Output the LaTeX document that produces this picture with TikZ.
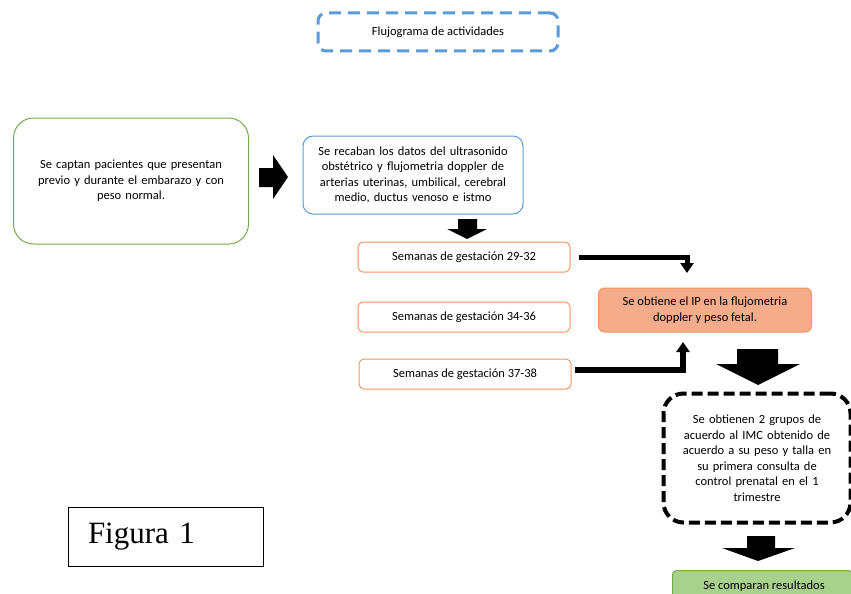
\documentclass[tikz,border=0pt]{standalone}
\usepackage{fontspec}
\setmainfont{Carlito}
\newfontfamily\timesfont{Liberation Serif}
\usetikzlibrary{arrows.meta}
\definecolor{azul}{RGB}{91,155,213}
\definecolor{verde}{RGB}{112,173,71}
\definecolor{verdeclaro}{RGB}{169,209,142}
\definecolor{naranja}{RGB}{240,150,95}
\definecolor{salmon}{RGB}{245,172,138}

\begin{document}
\begin{tikzpicture}[x=1pt,y=-1pt,
  txt/.style={align=center,font=\fontsize{12.5}{15.5}\selectfont,inner sep=0pt},
  caja/.style={txt,draw,rounded corners=#1,line width=1pt},
  semana/.style={caja=5pt,draw=naranja,minimum width=212pt,minimum height=30pt},
  flecha/.style={fill=black},
  codo/.style={draw=black,-{Triangle[width=13pt,length=10pt]}}]
\useasboundingbox (0,0) rectangle (851,594);

\node[caja=8pt,draw=azul,line width=3pt,dash pattern=on 12pt off 7pt,
  minimum width=240pt,minimum height=38pt] (titulo) at (438,32) {Flujograma de actividades};

\node[caja=20pt,draw=verde,minimum width=235pt,minimum height=126pt,text width=220pt]
  (captan) at (131,181) {Se captan pacientes que presentan\\previo y durante el embarazo y con\\peso normal.};

% flecha a la derecha
\fill[flecha] (259,168) -- (273,168) -- (273,155) -- (288,177) -- (273,199)
  -- (273,187) -- (259,187) -- cycle;

\node[caja=10pt,draw=azul,minimum width=220pt,minimum height=78pt,text width=214pt]
  (recaban) at (413,175) {Se recaban los datos del ultrasonido\\obstétrico y flujometria doppler de\\arterias uterinas, umbilical, cerebral\\medio, ductus venoso e istmo};

% flecha abajo
\fill[flecha] (458,219) -- (477,219) -- (477,229) -- (487,229) -- (467,239)
  -- (447,229) -- (458,229) -- cycle;

\node[semana] (s1) at (464,257) {Semanas de gestación 29-32};
\node[semana] (s2) at (464,317) {Semanas de gestación 34-36};
\node[semana] (s3) at (465,374) {Semanas de gestación 37-38};

\node[caja=6pt,draw=naranja,fill=salmon,minimum width=213pt,minimum height=44pt]
  (ip) at (705,310) {Se obtiene el IP en la flujometria\\doppler y peso fetal.};

\coordinate (p1) at (687,273);
\coordinate (p3) at (683,342);
\draw[codo,line width=5pt] ([xshift=8pt]s1.east) -| (p1);
\draw[codo,line width=6pt] ([xshift=3pt]s3.east |- 0,370) -| (p3);

% flecha abajo
\fill[flecha] (737,349) -- (778,349) -- (778,364) -- (800,364) -- (758,385)
  -- (716,364) -- (737,364) -- cycle;

\node[caja=20pt,draw=black,line width=4pt,dash pattern=on 11pt off 5pt,
  minimum width=187pt,minimum height=129pt,text width=180pt] (grupos) at (757,458)
  {Se obtienen 2 grupos de\\acuerdo al IMC obtenido de\\acuerdo a su peso y talla en\\su primera consulta de\\control prenatal en el 1\\trimestre};

% flecha abajo
\fill[flecha] (747,536) -- (775,536) -- (775,548) -- (795,548) -- (758,561)
  -- (722,548) -- (747,548) -- cycle;

\node[caja=4pt,draw=verde,fill=verdeclaro,minimum width=180pt,minimum height=36pt,
  anchor=north west] (resultados) at (672,570) {};
\node[txt] (comparan) at (764,586) {Se comparan resultados};

\node[draw,line width=1.2pt,minimum width=195pt,minimum height=59pt,
  font=\timesfont\fontsize{31}{31}\selectfont,text width=156pt,align=left]
  (figura) at (166,537) {Figura 1};
\end{tikzpicture}
\end{document}
